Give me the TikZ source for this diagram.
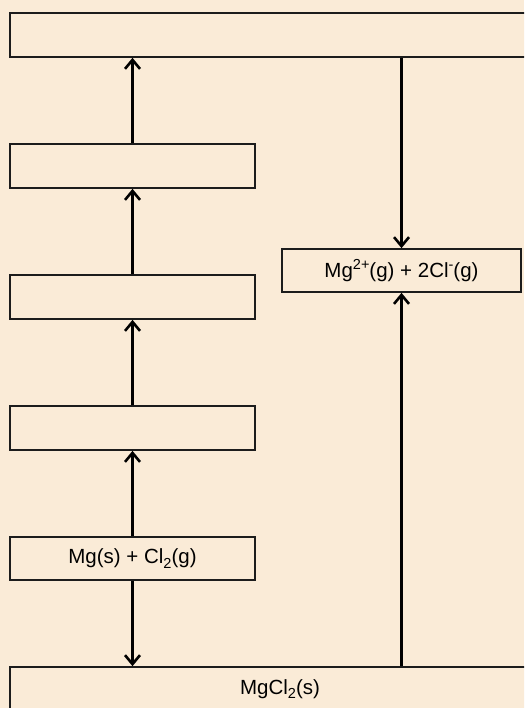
\documentclass[tikz,border=0pt]{standalone}
\usepackage{fontspec}
\setmainfont{Liberation Sans}
\usetikzlibrary{arrows.meta}
\definecolor{bg}{RGB}{250,235,215}
\definecolor{edge}{RGB}{28,28,28}
\newcommand{\lowsub}[1]{\raisebox{-0.4ex}{\fontsize{14.5}{14.5}\selectfont #1}}
\newcommand{\highsup}[1]{\raisebox{0.75ex}{\fontsize{14.5}{14.5}\selectfont #1}}
\tikzset{
  box/.style={draw=edge, line width=1.7pt, fill=bg, inner sep=0pt, rectangle,
    font=\fontsize{20.5}{24}\selectfont, text=black},
  arr/.style={draw=black, line width=2.6pt,
    -{Straight Barb[length=9pt,width=15pt,line width=2.6pt]}}
}
\begin{document}
\begin{tikzpicture}[x=1pt,y=1pt]
\useasboundingbox (0,0) rectangle (524,-708);
\fill[bg] (0,0) rectangle (524,-708);
\clip (0,0) rectangle (524,-708);
% boxes
\node[box, minimum width=540pt, minimum height=44pt] (top) at (280,-35) {};
\node[box, minimum width=245pt, minimum height=44pt] (b2) at (132.5,-166) {};
\node[box, minimum width=245pt, minimum height=44pt] (b3) at (132.5,-297) {};
\node[box, minimum width=245pt, minimum height=44pt] (b4) at (132.5,-428) {};
\node[box, minimum width=245pt, minimum height=43pt] (b5) at (132.5,-558.5) {Mg(s) + Cl\lowsub{2}(g)};
\node[box, minimum width=239pt, minimum height=43pt] (r) at (401.5,-270.5) {Mg\highsup{2+}(g) + 2Cl\highsup{-}(g)};
\node[box, minimum width=540pt, minimum height=44pt] (bot) at (280,-689) {MgCl\lowsub{2}(s)};
% connectors
\draw[arr] (b2.north) -- (top.south -| b2.north);
\draw[arr] (b3.north) -- (b2.south);
\draw[arr] (b4.north) -- (b3.south);
\draw[arr] (b5.north) -- (b4.south);
\draw[arr] (b5.south) -- (bot.north -| b5.south);
\draw[arr] (top.south -| r.north) -- (r.north);
\draw[arr] (bot.north -| r.south) -- (r.south);
\end{tikzpicture}
\end{document}
